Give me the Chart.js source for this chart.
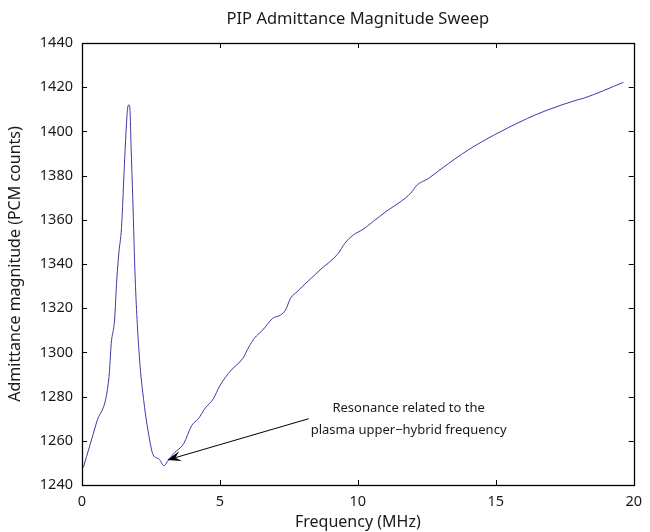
<!DOCTYPE html>
<html>
<head>
<meta charset="utf-8">
<script src="https://cdn.jsdelivr.net/npm/chart.js@4/dist/chart.umd.min.js"></script>
<style>
  html, body { margin: 0; padding: 0; background: #fff; }
  #c { display: block; }
</style>
</head>
<body>
<canvas id="c" width="650" height="532"></canvas>
<script>
// sweep: frequency (MHz) and admittance magnitude (PCM counts)
const freq = [0.05, 0.52, 0.98, 1.06, 1.18, 1.26, 1.34, 1.43, 1.54, 1.62, 1.66, 1.70, 1.74,
  1.78, 1.84, 1.93, 2.08, 2.25, 2.41, 2.58, 2.79, 2.97, 3.09, 3.33, 3.69, 3.98, 4.22, 4.46,
  4.76, 5.0, 5.41, 5.83, 6.05, 6.25, 6.55, 6.91, 7.2, 7.38, 7.56, 7.8, 7.98, 8.63, 9.29,
  9.53, 9.83, 10.19, 10.54, 11.02, 11.74, 11.91, 12.03, 12.09, 12.57, 13.05, 14.0, 14.96,
  16.15, 16.86, 17.94, 18.18, 19.63];
const admittance = [1248, 1268, 1289, 1304, 1314.7, 1332.8, 1345.5, 1356, 1385.6, 1405, 1411, 1412, 1409.5,
  1393, 1370, 1332.8, 1298, 1277, 1263.4, 1253.6, 1251.8, 1248.7, 1250.5, 1254.3, 1258.8, 1267, 1270, 1274.7,
  1279, 1285, 1292, 1297.3, 1302.5, 1306.4, 1310.1, 1315.4, 1316.9, 1319.2, 1324.5, 1327.5, 1329.7, 1337.3, 1344.8,
  1349.4, 1353.1, 1355.7, 1359.1, 1363.7, 1370, 1372, 1373.8, 1375, 1378.8, 1383.3, 1391.6, 1398.5,
  1405.9, 1409.6, 1414.2, 1415, 1422.2];

const xTicks = [0, 5, 10, 15, 20];
const yTicks = [1240, 1260, 1280, 1300, 1320, 1340, 1360, 1380, 1400, 1420, 1440];

const titleText = 'PIP Admittance Magnitude Sweep';
const noteLines = ['Resonance related to the', 'plasma upper\u2212hybrid frequency'];

const FONT = '"Noto Sans", "Liberation Sans", sans-serif';

// box, inward ticks on all sides, title and arrow note
const decor = {
  id: 'decor',
  afterDraw(chart) {
    const ctx = chart.ctx;
    const a = chart.chartArea;
    const xs = chart.scales.x, ys = chart.scales.y;
    ctx.save();
    ctx.strokeStyle = '#000';
    ctx.lineWidth = 1;
    ctx.beginPath();
    xTicks.forEach(t => {
      const px = Math.round(xs.getPixelForValue(t)) + 0.5;
      ctx.moveTo(px, a.bottom); ctx.lineTo(px, a.bottom - 5);
      ctx.moveTo(px, a.top); ctx.lineTo(px, a.top + 5);
    });
    yTicks.forEach(t => {
      const py = Math.round(ys.getPixelForValue(t)) + 0.5;
      ctx.moveTo(a.left, py); ctx.lineTo(a.left + 5, py);
      ctx.moveTo(a.right, py); ctx.lineTo(a.right - 5, py);
    });
    ctx.stroke();
    ctx.lineWidth = 1.3;
    ctx.strokeRect(Math.round(a.left) + 0.5, Math.round(a.top) + 0.5,
      Math.round(a.right - a.left), Math.round(a.bottom - a.top));

    // title over the axes
    ctx.fillStyle = '#1a1a1a';
    ctx.font = '16.5px ' + FONT;
    ctx.textAlign = 'center';
    ctx.textBaseline = 'middle';
    ctx.fillText(titleText, (a.left + a.right) / 2, 19);

    // annotation text
    ctx.font = '13px ' + FONT;
    ctx.fillText(noteLines[0], xs.getPixelForValue(11.84), ys.getPixelForValue(1274.6));
    ctx.fillText(noteLines[1], xs.getPixelForValue(11.84), ys.getPixelForValue(1264.6));

    // arrow
    const tx = xs.getPixelForValue(3.09), ty = ys.getPixelForValue(1251.3);
    const sx = xs.getPixelForValue(8.22), sy = ys.getPixelForValue(1270);
    let ux = tx - sx, uy = ty - sy;
    const len = Math.hypot(ux, uy);
    ux /= len; uy /= len;
    const nx = -uy, ny = ux;
    const L = 14, W = 10;
    ctx.lineWidth = 1;
    ctx.beginPath();
    ctx.moveTo(sx, sy);
    ctx.lineTo(tx - ux * L * 0.6, ty - uy * L * 0.6);
    ctx.stroke();
    ctx.fillStyle = '#000';
    ctx.beginPath();
    ctx.moveTo(tx, ty);
    ctx.lineTo(tx - ux * L + nx * W / 2, ty - uy * L + ny * W / 2);
    ctx.lineTo(tx - ux * L * 0.6, ty - uy * L * 0.6);
    ctx.lineTo(tx - ux * L - nx * W / 2, ty - uy * L - ny * W / 2);
    ctx.closePath();
    ctx.fill();
    ctx.restore();
  }
};

new Chart(document.getElementById('c'), {
  type: 'scatter',
  data: {
    datasets: [{
      data: freq.map((f, i) => ({ x: f, y: admittance[i] })),
      showLine: true,
      borderColor: '#3a3aa6',
      borderWidth: 1,
      pointRadius: 0,
      cubicInterpolationMode: 'monotone',
      fill: false
    }]
  },
  options: {
    responsive: false,
    devicePixelRatio: 1,
    animation: false,
    layout: { padding: { top: 43, right: 9, left: 0, bottom: 0 } },
    plugins: { legend: { display: false }, tooltip: { enabled: false } },
    scales: {
      x: {
        type: 'linear', min: 0, max: 20,
        grid: { display: false, drawTicks: false },
        border: { display: false },
        afterBuildTicks: s => { s.ticks = xTicks.map(v => ({ value: v })); },
        afterFit: s => { s.height = 47; },
        ticks: { padding: 8, color: '#1a1a1a', font: { family: FONT, size: 14.5 }, maxRotation: 0,
          callback: v => String(v) },
        title: { display: true, text: 'Frequency (MHz)', color: '#1a1a1a',
          font: { family: FONT, size: 16 }, padding: { top: 0, bottom: 0 } }
      },
      y: {
        type: 'linear', min: 1240, max: 1440,
        grid: { display: false, drawTicks: false },
        border: { display: false },
        afterBuildTicks: s => { s.ticks = yTicks.map(v => ({ value: v })); },
        afterFit: s => { s.width = 82; },
        ticks: { padding: 9, color: '#1a1a1a', font: { family: FONT, size: 14.5 },
          callback: v => String(v) },
        title: { display: true, text: 'Admittance magnitude (PCM counts)', color: '#1a1a1a',
          font: { family: FONT, size: 16 }, padding: { top: 6, bottom: 0 } }
      }
    }
  },
  plugins: [decor]
});
</script>
</body>
</html>
